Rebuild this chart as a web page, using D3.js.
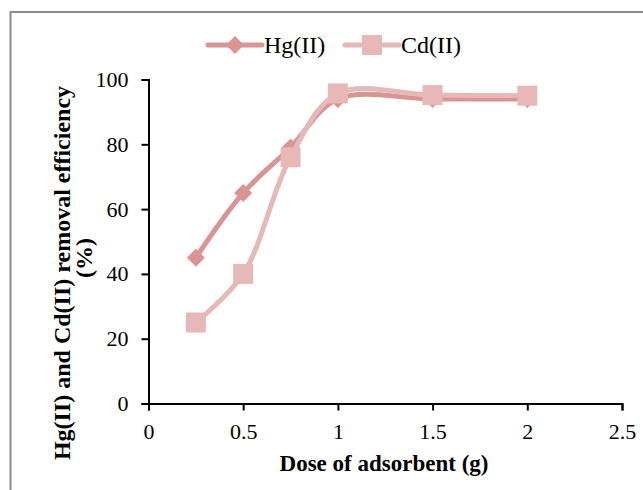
<!DOCTYPE html>
<html>
<head>
<script src="https://d3js.org/d3.v7.min.js"></script>
<style>
  body { margin: 0; background: #fff; }
  text { font-family: "Liberation Serif", "Times New Roman", serif; fill: #000; }
</style>
</head>
<body>
<script>
var doses = [0.25, 0.5, 0.75, 1, 1.5, 2];
var hgValues = [45, 65, 79, 94, 94, 94];
var cdValues = [25, 40, 76, 95.7, 95.2, 95];
var xTicks = [0, 0.5, 1, 1.5, 2, 2.5];
var yTicks = [0, 20, 40, 60, 80, 100];

var W = 643, H = 490;
var svg = d3.select("body").append("svg").attr("width", W).attr("height", H);

// outer chart border
svg.append("rect").attr("x", 10.5).attr("y", 12).attr("width", 700).attr("height", 600)
  .attr("fill", "none").attr("stroke", "#8c8c8c").attr("stroke-width", 2);

var x = d3.scaleLinear().domain([0, 2.5]).range([148.5, 622]);
var y = d3.scaleLinear().domain([0, 100]).range([403.5, 79.5]);

var xAxis = svg.append("g").attr("transform", "translate(0," + y(0) + ")")
  .call(d3.axisBottom(x).tickValues(xTicks).tickSize(7).tickPadding(13).tickFormat(d3.format("")));
var yAxis = svg.append("g").attr("transform", "translate(" + x(0) + ",0)")
  .call(d3.axisLeft(y).tickValues(yTicks).tickSize(7).tickPadding(13));
[xAxis, yAxis].forEach(function (a) {
  a.select(".domain").attr("stroke", "#000").attr("stroke-width", 2);
  a.selectAll(".tick line").attr("stroke", "#000").attr("stroke-width", 2);
  a.selectAll("text").style("font-family", "Liberation Serif, serif").style("font-size", "22px").attr("fill", "#000");
});

var line = d3.line().x(function (d) { return x(d[0]); }).y(function (d) { return y(d[1]); })
  .curve(d3.curveCatmullRom.alpha(0.5));

var series = [
  { name: "Hg(II)", values: hgValues, color: "#d99594", shape: "diamond" },
  { name: "Cd(II)", values: cdValues, color: "#e6b9b8", shape: "square" }
];

function marker(g, s, cx, cy) {
  if (s.shape === "diamond") {
    g.append("path").attr("d", "M" + cx + "," + (cy - 9) + "L" + (cx + 9) + "," + cy + "L" + cx + "," + (cy + 9) + "L" + (cx - 9) + "," + cy + "Z")
      .attr("fill", s.color);
  } else {
    g.append("rect").attr("x", cx - 10).attr("y", cy - 10).attr("width", 20).attr("height", 20).attr("fill", s.color);
  }
}

series.forEach(function (s) {
  var pts = doses.map(function (d, i) { return [d, s.values[i]]; });
  var g = svg.append("g");
  g.append("path").datum(pts).attr("d", line).attr("fill", "none")
    .attr("stroke", s.color).attr("stroke-width", 5).attr("stroke-linecap", "round");
  pts.forEach(function (p) { marker(g, s, x(p[0]), y(p[1])); });
});

// legend
var legendX = [208, 345];
series.forEach(function (s, i) {
  var g = svg.append("g");
  g.append("line").attr("x1", legendX[i]).attr("x2", legendX[i] + 54).attr("y1", 45).attr("y2", 45)
    .attr("stroke", s.color).attr("stroke-width", 5).attr("stroke-linecap", "round");
  marker(g, s, legendX[i] + 27, 45);
  g.append("text").attr("x", legendX[i] + 56).attr("y", 53).style("font-size", "24px").text(s.name);
});

// axis titles
svg.append("text").attr("x", 384).attr("y", 471).attr("text-anchor", "middle")
  .style("font-size", "23px").style("font-weight", "bold").text("Dose of adsorbent (g)");
svg.append("text").attr("transform", "translate(70,273) rotate(-90)")
  .attr("text-anchor", "middle").style("font-size", "24px").style("font-weight", "bold")
  .text("Hg(II) and Cd(II) removal efficiency");
svg.append("text").attr("transform", "translate(92,258) rotate(-90)")
  .attr("text-anchor", "middle").style("font-size", "24px").style("font-weight", "bold")
  .text("(%)");
</script>
</body>
</html>
